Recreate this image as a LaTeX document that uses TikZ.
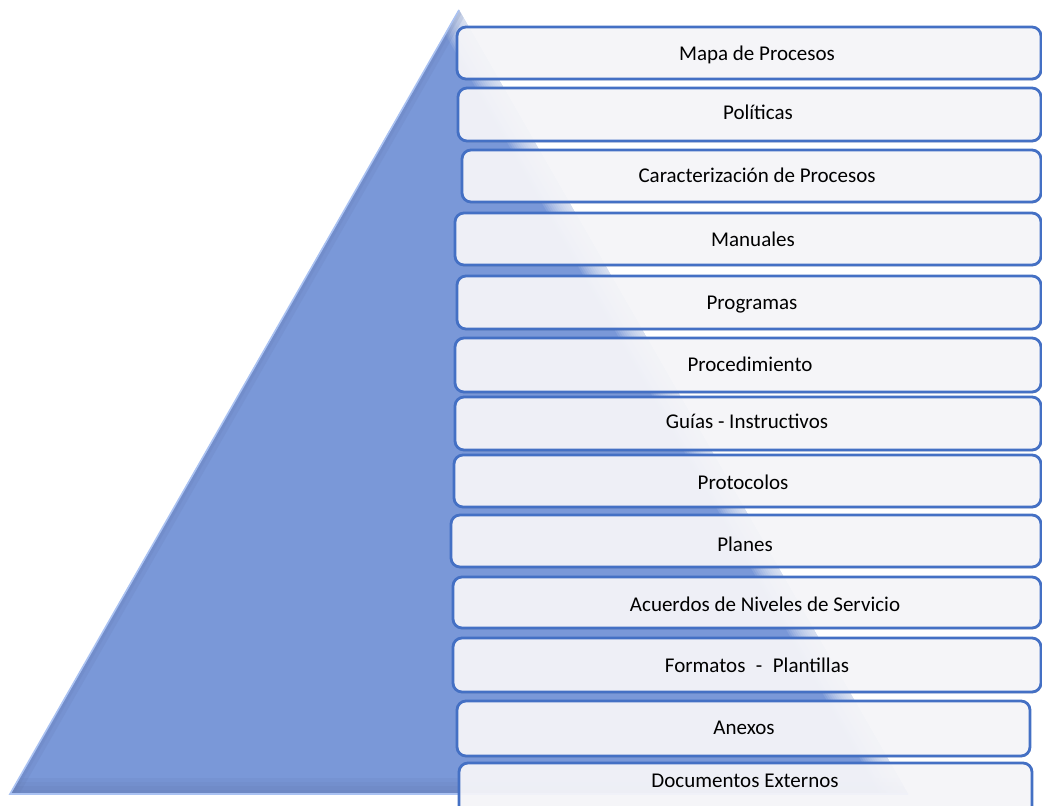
\documentclass[tikz,border=0pt]{standalone}
\usepackage{fontspec}
\setmainfont{Carlito}
\usetikzlibrary{shadows}
\definecolor{pyrblue}{RGB}{122,152,216}
\definecolor{pyrdark}{RGB}{96,118,170}
\definecolor{pyredge}{RGB}{170,194,242}
\definecolor{boxline}{RGB}{68,112,196}
\definecolor{boxfill}{RGB}{248,248,252}
\tikzset{
  levelbox/.style={draw=boxline, line width=1.4pt, fill=boxfill, fill opacity=0.92,
    rounded corners=4.5pt, drop shadow={shadow xshift=0.3pt, shadow yshift=-0.7pt, opacity=0.35}},
  leveltext/.style={font=\fontsize{10.5}{12}\selectfont, text=black, inner sep=0pt,
    text height=8.8pt, text depth=2pt}
}
\begin{document}
\begin{tikzpicture}[x=0.5pt,y=-0.5pt]
  \clip (0,0) rectangle (1042,806);
  % piramide
  \coordinate (apex) at (459,10);
  \coordinate (baseL) at (10,794);
  \coordinate (baseR) at (908,794);
  \fill[pyrblue] (apex)--(baseR)--(baseL)--cycle;
  \begin{scope}
    \clip (apex)--(baseR)--(baseL)--cycle;
    \foreach \w in {24,22,...,2}{
      \draw[white, opacity=0.1, line width=\w pt] (apex)--(baseR);
    }
    \foreach \w in {16,12,8,4}{
      \draw[pyrdark, opacity=0.12, line width=\w pt] (baseL)--(baseR);
    }
    \foreach \w in {8,4}{
      \draw[pyrdark, opacity=0.15, line width=\w pt] (apex)--(baseL);
    }
  \end{scope}
  \draw[pyredge, line width=0.8pt] (apex)--(baseL)--(baseR);
  % niveles
  \foreach \i/\l/\t/\r/\b/\tx/\ty/\txt in {
    1/457/27/1041/79/757/54/Mapa de Procesos,
    2/458/88/1041/141/758/113/Políticas,
    3/462/150/1041/202/757/176/Caracterización de Procesos,
    4/455/213/1041/265/753/240/Manuales,
    5/457/276/1041/329/752/303/Programas,
    6/455/338/1041/392/750/365/Procedimiento,
    7/455/397/1041/450/747/422/Guías - Instructivos,
    8/454/455/1041/507/743/483/Protocolos,
    9/451/515/1041/567/745/545/Planes,
    10/453/577/1041/628/765/605/Acuerdos de Niveles de Servicio,
    11/453/638/1041/692/757/666/Formatos\enspace-\enspace Plantillas,
    12/457/701/1030/756/744/728/Anexos,
    13/459/763/1032/830/745/781/Documentos Externos}{
    \draw[levelbox] (\l,\t) rectangle (\r,\b);
    \node[leveltext] (lvl\i) at (\tx,\ty) {\txt};
  }
\end{tikzpicture}
\end{document}
